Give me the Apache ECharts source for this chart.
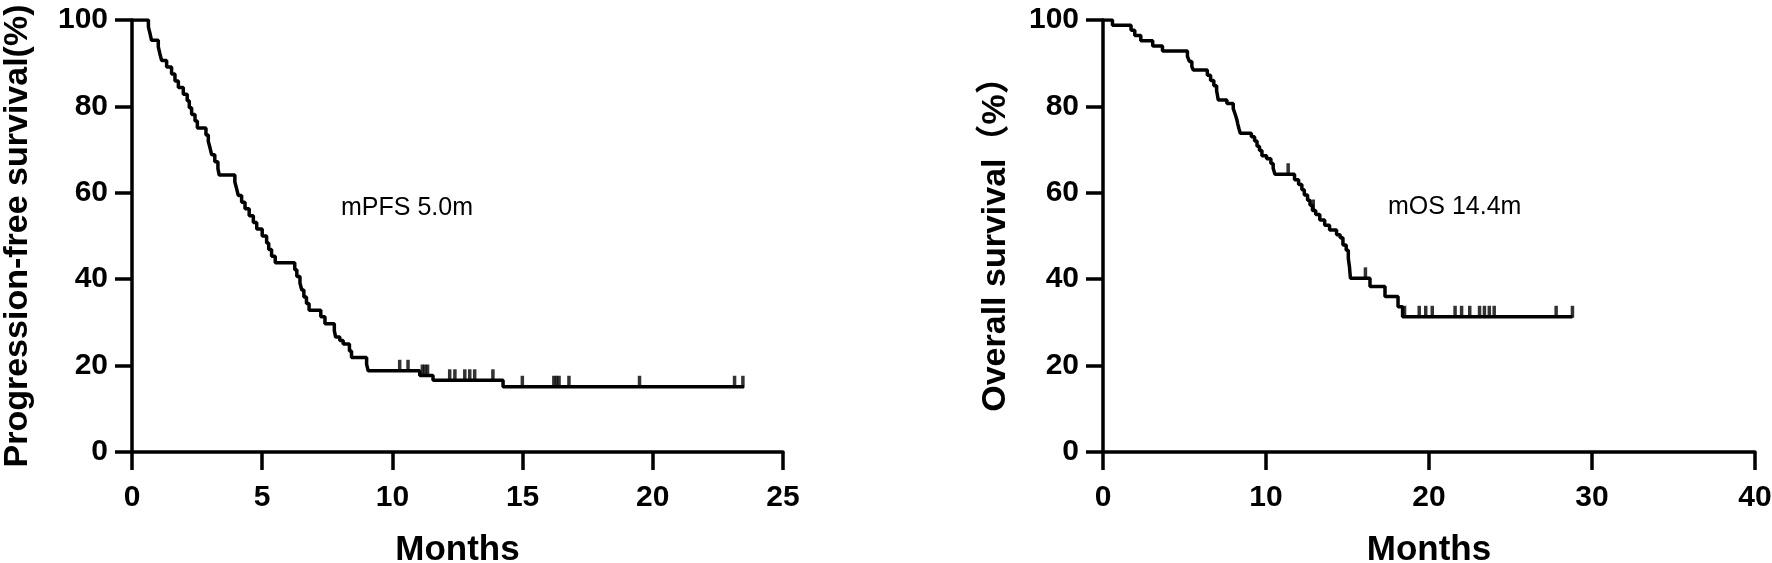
<!DOCTYPE html>
<html><head><meta charset="utf-8">
<script src="https://cdn.jsdelivr.net/npm/echarts@6/dist/echarts.min.js"></script>
<style>html,body{margin:0;padding:0;background:#fff}#c{width:1772px;height:563px}</style>
</head><body><div id="c"></div>
<script>
// ---- Progression-free survival (left) ----
const pfsTimes = [0,0.63,0.69,0.75,1.01,1.07,1.14,1.33,1.52,1.65,1.78,1.97,2.12,2.20,2.29,2.42,2.51,2.84,2.93,3.00,3.06,3.18,3.30,3.35,3.95,4.02,4.08,4.21,4.34,4.50,4.66,4.79,5.00,5.17,5.25,5.36,5.50,6.25,6.33,6.45,6.52,6.60,6.70,6.80,7.25,7.41,7.77,7.82,7.98,8.11,8.35,8.43,9.01,9.07,11.05,11.56,14.25,23.5];
const pfsSurv  = [100,98.4,96.9,95.3,93.8,92.2,90.6,89.1,87.5,85.9,84.4,82.8,81.3,79.7,78.1,76.6,75.0,73.4,71.9,70.3,68.8,67.2,65.6,64.1,62.5,60.9,59.4,57.8,56.3,54.7,53.1,51.6,50.0,48.4,46.9,45.3,43.8,42.2,40.6,39.1,37.5,35.9,34.4,32.8,31.3,29.7,28.1,26.6,25.8,25.0,23.4,21.9,20.3,18.8,17.7,16.6,15.1,15.1];
const pfsCensor = [10.28,10.6,11.15,11.25,11.35,12.2,12.4,12.78,12.97,13.16,13.86,14.99,16.2,16.3,16.4,16.78,19.49,23.14,23.46];
const pfsXTicks = [0,5,10,15,20,25];

// ---- Overall survival (right) ----
const osTimes = [0,0.58,1.72,1.95,2.32,3.05,3.65,5.18,5.30,5.45,5.54,6.40,6.60,6.80,6.97,7.03,7.07,7.60,7.99,8.10,8.20,8.27,8.35,8.42,9.10,9.30,9.45,9.60,9.75,10.04,10.30,10.44,10.55,11.75,12.00,12.20,12.35,12.55,12.70,12.85,13.05,13.30,13.60,13.90,14.33,14.55,14.72,14.92,15.05,15.12,15.18,16.38,17.30,18.10,18.38,28.8];
const osSurv  = [100,98.8,97.6,96.4,95.2,94.0,92.8,91.6,90.4,89.2,88.4,87.2,86.0,84.8,83.6,82.4,81.5,80.7,79.5,78.3,77.1,75.9,74.7,73.8,73.0,72.0,70.8,69.8,68.6,67.9,66.8,65.7,64.3,63.0,61.9,60.7,59.5,58.3,57.1,55.9,55.0,53.7,52.5,51.4,50.3,49.6,47.9,46.7,44.8,42.9,40.2,38.3,36.0,33.6,31.3,31.3];
const osCensor = [11.36,12.9,16.1,18.5,19.4,19.8,20.2,21.6,22.0,22.5,23.1,23.4,23.7,24.0,27.8,28.8];
const osXTicks = [0,10,20,30,40];

const yTicks = [0,20,40,60,80,100];

function pairs(t, s){ return t.map((v,i)=>[v, s[i]]); }
function censorPts(ct, t, s){
  return ct.map(c => { let v = s[0]; for (let i=0;i<t.length;i++){ if (t[i] <= c) v = s[i]; } return [c, v]; });
}

const FONT = '"Liberation Sans", Arial, Helvetica, sans-serif';
const FONT_T = '"Liberation Sans", Arial, "Noto Sans CJK SC", sans-serif';
const axisLine = {show:true, onZero:false, lineStyle:{color:'#000', width:3.5}};
const axisTickX = {show:true, length:18, lineStyle:{color:'#000', width:3.5}};
const axisTickY = {show:true, length:17, lineStyle:{color:'#000', width:3.5}};
const lbl = {color:'#000', fontFamily:FONT, fontWeight:'bold', fontSize:30, lineHeight:30};

function xAxis(idx, ticks){
  return {type:'value', gridIndex:idx, min:ticks[0], max:ticks[ticks.length-1], interval:ticks[1]-ticks[0],
    axisLine, axisTick:axisTickX, splitLine:{show:false},
    axisLabel:Object.assign({margin:31}, lbl),
    name:'Months', nameLocation:'middle', nameGap:81,
    nameTextStyle:{color:'#000', fontFamily:FONT, fontWeight:'bold', fontSize:35, lineHeight:35}};
}
function yAxis(idx, name, gap){
  return {type:'value', gridIndex:idx, min:yTicks[0], max:yTicks[yTicks.length-1], interval:yTicks[1]-yTicks[0],
    axisLine, axisTick:axisTickY, splitLine:{show:false},
    axisLabel:Object.assign({margin:24}, lbl),
    name, nameLocation:'middle', nameRotate:90, nameGap:gap,
    nameTextStyle:{color:'#000', fontFamily:FONT_T, fontWeight:'bold', fontSize:34, lineHeight:34}};
}
const lineStyle = {color:'#000', width:3.5};
const censorSeries = (xi, data) => ({type:'scatter', xAxisIndex:xi, yAxisIndex:xi, data,
  symbol:'rect', symbolSize:[3.5,12], symbolOffset:[0,-5], itemStyle:{color:'#000'}, silent:true, z:3});

const chart = echarts.init(document.getElementById('c'), null, {renderer:'canvas'});
chart.setOption({
  animation:false,
  backgroundColor:'#fff',
  grid:[
    {left:132, top:20, width:651, height:432, containLabel:false, outerBoundsMode:'none'},
    {left:1103, top:20, width:652, height:432, containLabel:false, outerBoundsMode:'none'}
  ],
  xAxis:[xAxis(0, pfsXTicks), xAxis(1, osXTicks)],
  yAxis:[yAxis(0,'Progression-free survival(%)',97), yAxis(1,'Overall survival（%）',90)],
  series:[
    {type:'line', xAxisIndex:0, yAxisIndex:0, step:'end', showSymbol:false, symbol:'none', data:pairs(pfsTimes,pfsSurv), lineStyle, z:2},
    censorSeries(0, censorPts(pfsCensor, pfsTimes, pfsSurv)),
    {type:'line', xAxisIndex:1, yAxisIndex:1, step:'end', showSymbol:false, symbol:'none', data:pairs(osTimes,osSurv), lineStyle, z:2},
    censorSeries(1, censorPts(osCensor, osTimes, osSurv))
  ],
  graphic:[
    {type:'text', left:341, top:196, style:{text:'mPFS 5.0m', fill:'#000', font:'25px '+FONT}},
    {type:'text', left:1388, top:195, style:{text:'mOS 14.4m', fill:'#000', font:'25px '+FONT}}
  ]
});
</script></body></html>
